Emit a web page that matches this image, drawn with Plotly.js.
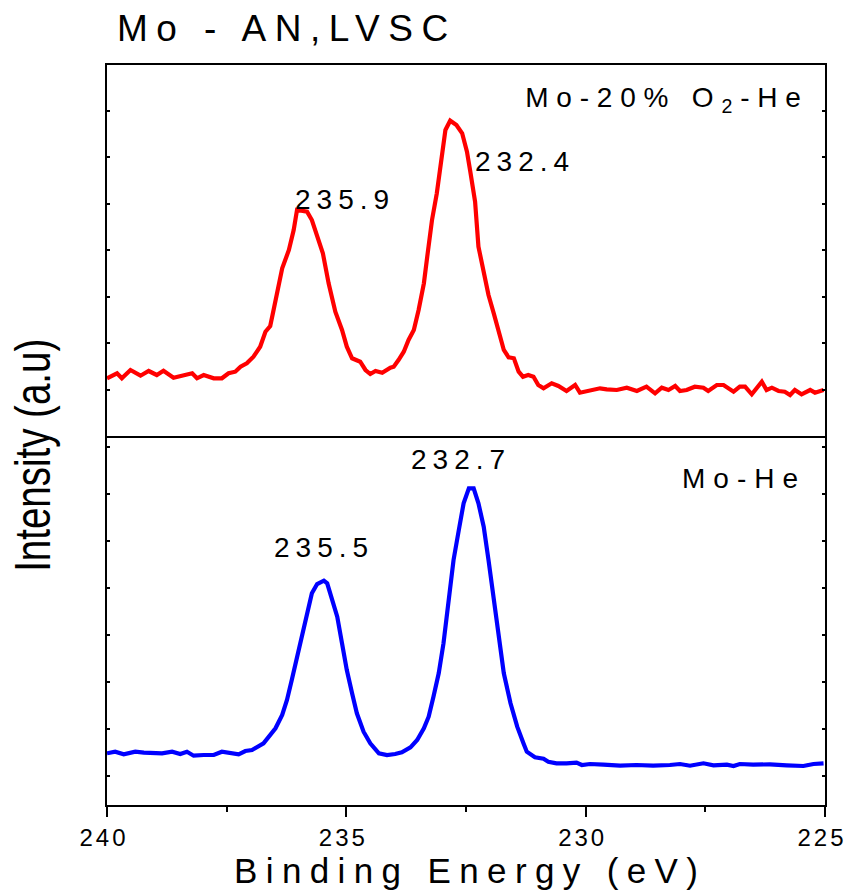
<!DOCTYPE html>
<html>
<head>
<meta charset="utf-8">
<script src="https://cdn.plot.ly/plotly-3.0.1.min.js"></script>
<style>
  body { margin: 0; background: #fff; }
  #chart { width: 847px; height: 896px; }
  .gtitle { letter-spacing: 8.5px; }
  .xtick text { letter-spacing: 3px; }
  .annotation-text { letter-spacing: 6px; }
  .annotation[data-index="4"] .annotation-text { letter-spacing: 7.8px; }
  .annotation[data-index="5"] .annotation-text { letter-spacing: 8px; }
  .annotation[data-index="6"] .annotation-text { letter-spacing: 0px; }
</style>
</head>
<body>
<div id="chart"></div>
<script>
// Binding energy (eV) and intensity (a.u.)
const energyO2 = [240.00,239.79,239.69,239.51,239.30,239.13,238.96,238.82,238.61,238.40,238.22,238.12,237.98,237.77,237.60,237.46,237.32,237.21,237.08,236.94,236.80,236.69,236.59,236.52,236.41,236.34,236.20,236.10,236.03,235.82,235.72,235.61,235.49,235.37,235.23,235.09,234.99,234.88,234.71,234.60,234.50,234.39,234.25,234.08,234.01,233.91,233.80,233.70,233.59,233.49,233.38,233.31,233.21,233.11,233.04,232.93,232.83,232.70,232.58,232.48,232.41,232.31,232.24,232.13,232.03,231.92,231.82,231.71,231.61,231.50,231.40,231.31,231.20,231.09,230.99,230.88,230.71,230.57,230.40,230.22,230.12,229.91,229.70,229.56,229.35,229.14,228.93,228.73,228.55,228.41,228.27,228.13,228.03,227.89,227.72,227.54,227.44,227.26,227.12,226.91,226.78,226.67,226.53,226.32,226.22,226.11,225.97,225.84,225.73,225.63,225.49,225.31,225.21,225.03];
const intensityO2 = [57.7,62.7,57.7,66.0,60.3,65.0,61.0,65.3,58.3,60.3,62.7,57.7,61.0,57.7,57.7,62.7,64.3,69.3,72.7,79.3,89.3,104.3,110.0,126.0,151.0,167.7,186.0,206.0,226.0,224.3,216.0,199.3,182.7,152.7,124.3,106.0,89.3,77.7,74.3,66.0,62.0,65.0,63.3,68.3,69.3,76.0,84.3,96.0,106.0,126.0,152.7,179.3,216.0,242.7,266.0,306.0,315.3,311.0,302.7,284.3,264.3,234.3,189.3,166.0,141.0,122.7,104.3,86.0,78.7,77.7,64.3,59.3,61.0,59.3,51.0,47.7,52.7,50.0,45.0,51.0,43.3,46.0,47.7,46.7,46.0,48.3,45.0,49.3,42.7,48.3,46.0,50.0,45.0,46.0,49.3,48.3,45.0,51.0,51.0,44.3,49.3,49.3,41.7,54.3,46.0,48.3,45.0,44.3,41.0,46.0,41.7,46.0,43.3,46.0];

const energyHe = [240.00,239.83,239.65,239.41,239.23,239.03,238.85,238.64,238.47,238.33,238.19,237.98,237.77,237.60,237.42,237.25,237.11,236.97,236.73,236.59,236.48,236.34,236.24,236.14,236.03,235.93,235.82,235.72,235.61,235.47,235.40,235.30,235.19,235.09,234.99,234.88,234.78,234.64,234.50,234.32,234.15,233.98,233.84,233.66,233.52,233.38,233.28,233.18,233.07,232.97,232.86,232.76,232.65,232.55,232.44,232.34,232.24,232.13,232.03,231.92,231.82,231.71,231.57,231.43,231.30,231.23,231.06,230.88,230.78,230.61,230.40,230.19,230.08,229.91,229.63,229.28,228.94,228.59,228.24,228.03,227.82,227.54,227.33,227.05,226.91,226.78,226.50,226.15,225.80,225.45,225.24,225.03];
const intensityHe = [51.7,53.3,50.7,53.3,52.3,52.3,51.7,53.3,51.0,53.3,49.3,50.0,50.0,53.3,51.7,50.7,54.0,55.0,61.7,70.0,76.7,90.0,105.0,125.0,148.3,170.0,195.0,211.7,221.0,224.3,221.7,205.0,188.3,161.7,135.0,111.7,91.7,73.3,61.7,51.7,50.0,51.0,52.7,57.7,65.0,76.7,88.3,108.3,131.7,161.7,201.7,245.0,275.0,301.7,316.7,316.7,301.7,278.3,245.0,208.3,171.7,131.7,101.7,78.3,61.7,53.3,47.7,46.3,43.3,41.7,41.7,42.3,40.0,41.0,40.3,39.3,40.0,39.3,40.0,41.0,39.3,41.7,39.7,40.3,39.0,41.0,40.3,40.7,39.7,39.0,41.0,41.7];

const xTickVals = [240, 235, 230, 225];
const xTickText = ['240', '235', '230', '225'];
const yTicksTop = [0, 46.5, 93, 139.5, 186, 232.5, 279, 325.5];
const yTicksBottom = [29, 76, 123, 170, 217, 264, 311, 358];

const peakLabels = ['235.9', '232.4', '235.5', '232.7'];
const peakLabelX = [235.03, 231.27, 235.47, 232.60];
const peakLabelY = [237, 275, 258, 346];
const peakLabelAxis = ['y', 'y', 'y2', 'y2'];

const sampleNames = ['Mo-20%\u00A0O<sub>2</sub>-He', 'Mo-He'];

const mainFont = 'Liberation Sans, Arial, sans-serif';

const traces = [
  { x: energyO2, y: intensityO2, xaxis: 'x2', yaxis: 'y', type: 'scatter', mode: 'lines',
    line: { color: '#ff0000', width: 4.2 }, name: 'Mo-20% O2-He', hoverinfo: 'x+y' },
  { x: energyHe, y: intensityHe, xaxis: 'x', yaxis: 'y2', type: 'scatter', mode: 'lines',
    line: { color: '#0000ff', width: 4.2 }, name: 'Mo-He', hoverinfo: 'x+y' }
];

const annotations = [];
for (let i = 0; i < peakLabels.length; i++) {
  annotations.push({
    text: peakLabels[i], x: peakLabelX[i], y: peakLabelY[i],
    xref: peakLabelAxis[i] === 'y' ? 'x2' : 'x', yref: peakLabelAxis[i],
    showarrow: false, xanchor: 'center', yanchor: 'middle',
    font: { family: mainFont, size: 28, color: '#000' }
  });
}
annotations.push({
  text: sampleNames[0], x: 225.52, y: 337, xref: 'x2', yref: 'y',
  showarrow: false, xanchor: 'right', yanchor: 'middle',
  font: { family: mainFont, size: 28, color: '#000' }
});
annotations.push({
  text: sampleNames[1], x: 225.45, y: 327, xref: 'x', yref: 'y2',
  showarrow: false, xanchor: 'right', yanchor: 'middle',
  font: { family: mainFont, size: 28, color: '#000' }
});
// y axis title spans both panels: placed as a paper annotation
annotations.push({
  text: 'Intensity (a.u)', xref: 'paper', yref: 'paper',
  x: -0.103, y: 0.472, xanchor: 'center', yanchor: 'middle', textangle: -90,
  showarrow: false, font: { family: mainFont, size: 50, color: '#000' }
});

const split = 369 / 740;

const layout = {
  width: 847, height: 896,
  margin: { l: 107, r: 22, t: 65, b: 91 },
  paper_bgcolor: '#fff', plot_bgcolor: '#fff',
  showlegend: false,
  title: {
    text: 'Mo - AN,LVSC',
    font: { family: mainFont, size: 37, color: '#000' },
    xref: 'container', x: 0.138, xanchor: 'left',
    yref: 'container', y: 0.969, yanchor: 'middle'
  },
  xaxis: {
    range: [240, 225], anchor: 'y2', domain: [0, 1],
    showline: true, linecolor: '#000', linewidth: 2, mirror: false,
    showgrid: false, zeroline: false,
    tickmode: 'array', tickvals: xTickVals, ticktext: xTickText,
    ticklabeloverflow: 'allow', ticklabelshift: 3,
    ticks: 'outside', ticklen: 10, tickwidth: 2, tickcolor: '#000',
    minor: { dtick: 2.5, tick0: 225, ticks: 'outside', ticklen: 5, tickwidth: 2, tickcolor: '#000', showgrid: false },
    tickfont: { family: mainFont, size: 24, color: '#000' },
    title: { text: 'Binding Energy (eV)', font: { family: mainFont, size: 35, color: '#000' }, standoff: 8 }
  },
  xaxis2: {
    matches: 'x', anchor: 'y', domain: [0, 1],
    showline: true, linecolor: '#000', linewidth: 2, mirror: true,
    showgrid: false, zeroline: false, showticklabels: false, ticks: ''
  },
  yaxis: {
    domain: [split, 1], range: [0, 371],
    showline: true, linecolor: '#000', linewidth: 2, mirror: 'ticks',
    showgrid: false, zeroline: false, showticklabels: false,
    tickmode: 'array', tickvals: yTicksTop,
    ticks: 'inside', ticklen: 3, tickwidth: 2, tickcolor: '#000'
  },
  yaxis2: {
    domain: [0, split], range: [0, 369],
    showline: true, linecolor: '#000', linewidth: 2, mirror: 'ticks',
    showgrid: false, zeroline: false, showticklabels: false,
    tickmode: 'array', tickvals: yTicksBottom,
    ticks: 'inside', ticklen: 3, tickwidth: 2, tickcolor: '#000'
  },
  annotations: annotations
};

Plotly.newPlot('chart', traces, layout, { displayModeBar: false, staticPlot: true }).then(function () {
  // narrow, tall axis lettering as in the reference
  const yt = document.querySelector('.annotation[data-index="6"] text.annotation-text');
  if (yt) { yt.setAttribute('textLength', '233'); yt.setAttribute('lengthAdjust', 'spacingAndGlyphs'); }
  const xt = document.querySelector('.xtitle');
  if (xt) { xt.setAttribute('textLength', '464'); xt.setAttribute('lengthAdjust', 'spacing'); }
});
</script>
</body>
</html>
